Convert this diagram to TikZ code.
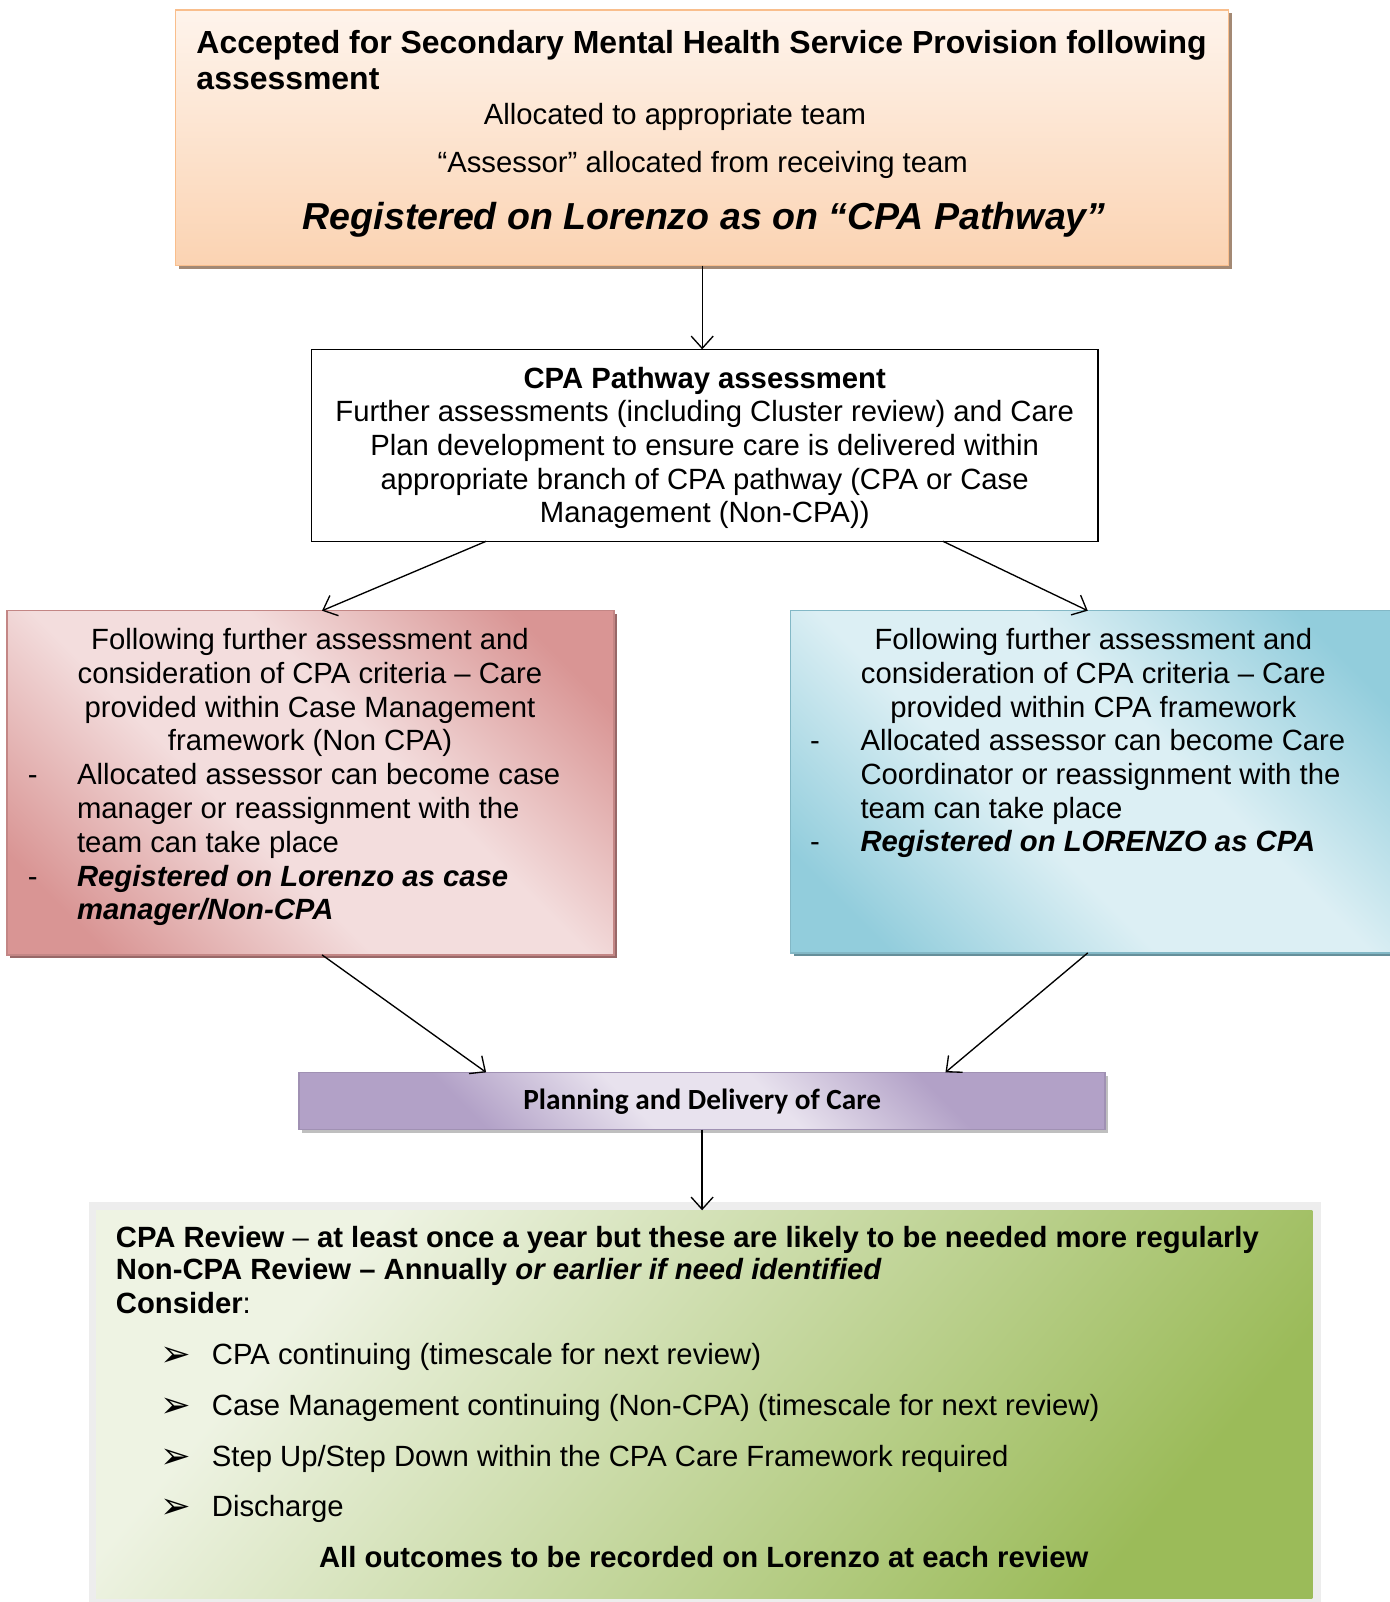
\documentclass[tikz,border=0pt]{standalone}
\usepackage{fontspec}
\setmainfont{Liberation Sans}
\newfontfamily\calibrifont{Carlito}
\newfontfamily\symfont{DejaVu Sans}
\usetikzlibrary{arrows.meta,calc,shadows}

\definecolor{peachlight}{HTML}{FEF4EC}
\definecolor{peachdark}{HTML}{FBD3B2}
\definecolor{peachline}{HTML}{F9BE8C}
\definecolor{pinklight}{HTML}{F3DDDD}
\definecolor{pinkdark}{HTML}{D99594}
\definecolor{bluelight}{HTML}{DCEFF4}
\definecolor{bluedark}{HTML}{92CDDC}
\definecolor{lilaclight}{HTML}{E8E2EE}
\definecolor{lilacdark}{HTML}{B2A1C7}
\definecolor{greenlight}{HTML}{EEF3E3}
\definecolor{greendark}{HTML}{9BBB59}

\pgfdeclarehorizontalshading{pinkshade}{100bp}{color(0bp)=(pinkdark); color(22bp)=(pinkdark); color(42bp)=(pinklight); color(58bp)=(pinklight); color(78bp)=(pinkdark); color(100bp)=(pinkdark)}
\pgfdeclarehorizontalshading{blueshade}{100bp}{color(0bp)=(bluedark); color(22bp)=(bluedark); color(42bp)=(bluelight); color(58bp)=(bluelight); color(78bp)=(bluedark); color(100bp)=(bluedark)}
\pgfdeclarehorizontalshading{lilacshade}{100bp}{color(0bp)=(lilacdark); color(30bp)=(lilacdark); color(44bp)=(lilaclight); color(56bp)=(lilaclight); color(70bp)=(lilacdark); color(100bp)=(lilacdark)}
\pgfdeclarehorizontalshading{greenshade}{100bp}{color(0bp)=(greenlight); color(28bp)=(greenlight); color(75bp)=(greendark); color(100bp)=(greendark)}

\tikzset{
    box/.style={inner sep=0pt, outer sep=0pt, line width=0.6pt},
    boxshadow/.style={drop shadow={shadow xshift=1.3pt, shadow yshift=-1.3pt, fill=#1, opacity=1}},
    txt/.style={inner sep=0pt, anchor=mid, yshift=-1.6pt, font=\fontsize{12}{14}\selectfont},
    txtb/.style={txt, font=\fontsize{12}{14}\selectfont\bfseries},
    txtbi/.style={txt, font=\fontsize{12}{14}\selectfont\bfseries\itshape},
    flow/.style={-{Straight Barb[length=5pt,width=9pt]}, line width=0.55pt},
}

\begin{document}
\begin{tikzpicture}[x=0.41pt, y=-0.41pt]
    \useasboundingbox (0,0) rectangle (1389,1602);

    % boxes
    \node[box, draw=peachline, top color=peachlight, bottom color=peachdark, boxshadow=black!35!peachdark,
          minimum width=431.7pt, minimum height=104.7pt] (accepted) at (702.2,137.9) {};
    \node[box, draw=black, fill=white, minimum width=322.4pt, minimum height=78.7pt] (cpa) at (704.7,445.3) {};
    \node[box, draw=pinkdark!90!black, shading=pinkshade, shading angle=45, boxshadow=black!30!pinkdark,
          minimum width=248.7pt, minimum height=141.1pt] (noncpa) at (310.5,782.8) {};
    \node[box, draw=bluedark!90!black, shading=blueshade, shading angle=45, boxshadow=black!30!bluedark,
          minimum width=248.7pt, minimum height=140.3pt] (cpaframe) at (1093.8,781.8) {};
    \node[box, draw=lilacdark!90!black, shading=lilacshade, shading angle=45, boxshadow=black!25,
          minimum width=330.4pt, minimum height=23.5pt] (planning) at (702.1,1101) {};
    \node[box, fill=black!7, minimum width=505pt, minimum height=165.6pt] (frame) at (704.75,1404) {};
    \node[box, shading=greenshade, shading angle=-40, minimum width=498.7pt, minimum height=159.1pt] (review) at (704.2,1404.3) {};

    % top box
    \node[txtb, anchor=mid west, font=\fontsize{13.1}{15}\selectfont\bfseries] (acc1) at (196,43.5) {Accepted for Secondary Mental Health Service Provision following};
    \node[txtb, anchor=mid west, font=\fontsize{13.1}{15}\selectfont\bfseries] (acc2) at (196,79.2) {assessment};
    \node[txt] (acc3) at (675,114.4) {Allocated to appropriate team};
    \node[txt] (acc4) at (702.7,162.4) {“Assessor” allocated from receiving team};
    \node[txtbi, font=\fontsize{15.4}{18}\selectfont\bfseries\itshape] (acc5) at (704.2,219.5) {Registered on Lorenzo as on “CPA Pathway”};

    % pathway assessment
    \node[txtb] (cpa0) at (704.7,377.9) {CPA Pathway assessment};
    \foreach \i/\w in {1/Further assessments (including Cluster review) and Care, 2/Plan development to ensure care is delivered within, 3/appropriate branch of CPA pathway (CPA or Case, 4/Management (Non-CPA))}{
        \node[txt] (cpa\i) at (704.7,{377.9+33.6*\i}) {\w};
    }

    % case management branch
    \foreach \i/\w in {1/Following further assessment and, 2/consideration of CPA criteria – Care, 3/provided within Case Management, 4/framework (Non CPA)}{
        \node[txt] (nc\i) at (310,{639.3+33.7*(\i-1)}) {\w};
    }
    \node[txt] (ncd1) at (32.7,774.2) {-};
    \node[txt, anchor=mid west] (nc5) at (76.6,774.2) {Allocated assessor can become case};
    \node[txt, anchor=mid west] (nc6) at (76.6,807.9) {manager or reassignment with the};
    \node[txt, anchor=mid west] (nc7) at (76.6,842.6) {team can take place};
    \node[txt] (ncd2) at (32.7,876.3) {-};
    \node[txtbi, anchor=mid west] (nc8) at (76.6,876.3) {Registered on Lorenzo as case};
    \node[txtbi, anchor=mid west] (nc9) at (76.6,909.0) {manager/Non-CPA};

    % cpa branch
    \foreach \i/\w in {1/Following further assessment and, 2/consideration of CPA criteria – Care, 3/provided within CPA framework}{
        \node[txt] (cf\i) at (1093.3,{639.3+33.7*(\i-1)}) {\w};
    }
    \node[txt] (cfd1) at (815,740.4) {-};
    \node[txt, anchor=mid west] (cf4) at (860,740.4) {Allocated assessor can become Care};
    \node[txt, anchor=mid west] (cf5) at (860,774.2) {Coordinator or reassignment with the};
    \node[txt, anchor=mid west] (cf6) at (860,807.9) {team can take place};
    \node[txt] (cfd2) at (815,841.6) {-};
    \node[txtbi, anchor=mid west] (cf7) at (860,841.6) {Registered on LORENZO as CPA};

    % planning
    \node[txt, yshift=0.8pt, font=\calibrifont\fontsize{12}{14}\selectfont\bfseries] (plan) at (702.2,1101) {Planning and Delivery of Care};

    % review
    \node[txt, anchor=mid west] (rv1) at (115.4,1236.8) {\textbf{CPA Review} – \textbf{at least once a year but these are likely to be needed more regularly}};
    \node[txtb, anchor=mid west] (rv2) at (115.4,1269.5) {Non-CPA Review – Annually \textit{or earlier if need identified}};
    \node[txt, anchor=mid west] (rv3) at (115.4,1303.2) {\textbf{Consider}:};
    \foreach \i/\w in {1/{CPA continuing (timescale for next review)}, 2/{Case Management continuing (Non-CPA) (timescale for next review)}, 3/{Step Up/Step Down within the CPA Care Framework required}, 4/{Discharge}}{
        \node[txt, font=\fontsize{15}{17}\selectfont] (tip\i) at (175.7,{1356.3+50.7*(\i-1)}) {\symfont ➢};
        \node[txt, anchor=mid west] (opt\i) at (211.4,{1354.3+50.7*(\i-1)}) {\w};
    }
    \node[txtb] (rv4) at (703.7,1557.5) {All outcomes to be recorded on Lorenzo at each review};

    % connectors
    \draw[flow] (accepted.south) -- (accepted.south |- cpa.north);
    \draw[flow] ($(cpa.south west)!0.222!(cpa.south east)$) -- ($(noncpa.north west)!0.519!(noncpa.north east)$);
    \draw[flow] ($(cpa.south west)!0.803!(cpa.south east)$) -- ($(cpaframe.north west)!0.49!(cpaframe.north east)$);
    \draw[flow] ($(noncpa.south west)!0.519!(noncpa.south east)$) -- ($(planning.north west)!0.232!(planning.north east)$);
    \draw[flow] ($(cpaframe.south west)!0.49!(cpaframe.south east)$) -- ($(planning.north west)!0.802!(planning.north east)$);
    \draw[flow] (planning.south) -- (planning.south |- review.north);
\end{tikzpicture}
\end{document}
